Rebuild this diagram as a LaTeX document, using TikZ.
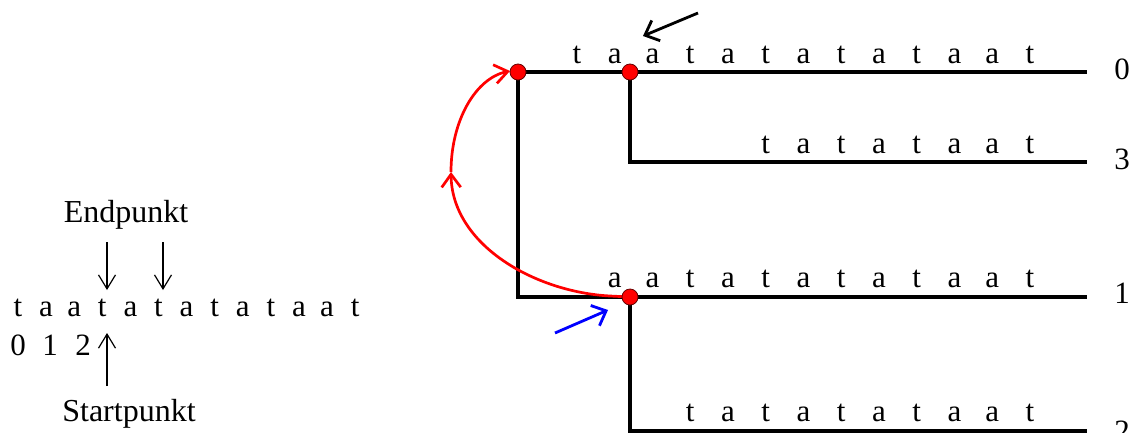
\documentclass[tikz,border=0pt]{standalone}
\usepackage{fontspec}
\setmainfont{Liberation Serif}
\usetikzlibrary{arrows.meta}
\begin{document}
\begin{tikzpicture}[x=1pt,y=-1pt,
  every node/.style={font=\fontsize{31}{35}\selectfont, inner sep=0pt},
  ch/.style={anchor=base},
  lbl/.style={anchor=base, font=\fontsize{32}{36}\selectfont},
  treeedge/.style={line width=3.2pt},
  dot/.style={circle, fill=red, draw=black!60!red, line width=0.8pt, minimum size=16pt, inner sep=0pt},
  thinarrow/.style={line width=1.2pt, -{Straight Barb[length=14pt,width=17pt,line width=1.2pt]}},
  thickarrow/.style={line width=2.8pt, -{Straight Barb[length=12pt,width=22pt,line width=2.8pt]}},
  redcurve/.style={red, line width=2.7pt},
  redtip/.style={-{Straight Barb[length=13pt,width=19pt,line width=2.7pt]}}
]
\useasboundingbox (0,0) rectangle (1138,432);

% ---------- left part ----------
\node[lbl] (endp) at (126,222) {Endpunkt};
\node[lbl] (startp) at (129,421) {Startpunkt};
\foreach \c [count=\i from 0] in {t,a,a,t,a,t,a,t,a,t,a,a,t}
  \node[ch] (s\i) at ({18+28.1*\i},316) {\c};
\node[ch] (n0) at (18,355) {0};
\node[ch] (n1) at (50,355) {1};
\node[ch] (n2) at (83,355) {2};
\coordinate (da1) at (107,242);
\coordinate (db1) at (107,290);
\coordinate (da2) at (163,242);
\coordinate (db2) at (163,290);
\coordinate (ua1) at (107,386);
\coordinate (ub1) at (107,333);
\draw[thinarrow] (da1) -- (db1);
\draw[thinarrow] (da2) -- (db2);
\draw[thinarrow] (ua1) -- (ub1);

% ---------- tree ----------
\coordinate (pr) at (518,72);
\coordinate (pu) at (630,72);
\coordinate (pv) at (630,297);
\coordinate (e0) at (1087,72);
\coordinate (c3) at (630,162);
\coordinate (e3) at (1087,162);
\coordinate (c1) at (518,297);
\coordinate (e1) at (1087,297);
\coordinate (c2) at (630,431);
\coordinate (e2) at (1087,431);
\draw[treeedge] (pr) -- (e0);
\draw[treeedge] (pr) -- (c1) -- (e1);
\draw[treeedge] (pu) -- (c3) -- (e3);
\draw[treeedge] (pv) -- (c2) -- (e2);

% letters
\foreach \c [count=\i from 0] in {t,a,a,t,a,t,a,t,a,t,a,a,t}
  \node[ch] (ra\i) at ({577+37.75*\i},63) {\c};
\foreach \c [count=\i from 5] in {t,a,t,a,t,a,a,t}
  \node[ch] (rb\i) at ({577+37.75*\i},153) {\c};
\foreach \c [count=\i from 1] in {a,a,t,a,t,a,t,a,t,a,a,t}
  \node[ch] (rc\i) at ({577+37.75*\i},287) {\c};
\foreach \c [count=\i from 3] in {t,a,t,a,t,a,t,a,a,t}
  \node[ch] (rd\i) at ({577+37.75*\i},421) {\c};

% leaf numbers
\node[ch] (l0) at (1122,79) {0};
\node[ch] (l3) at (1122,169) {3};
\node[ch] (l1) at (1122,303) {1};
\node[ch] (l2) at (1122,441) {2};

% red curve
\coordinate (m) at (451,172);
\draw[redcurve, redtip] (pv) -- (610,296) .. controls (535,292) and (452,245) .. (m);
\draw[redcurve, redtip] (m) .. controls (451,120) and (476,78) .. (510,71);

% dots
\node[dot] (r) at (pr) {};
\node[dot] (u) at (pu) {};
\node[dot] (v) at (pv) {};

% pointer arrows
\coordinate (ka) at (698,13);
\coordinate (kb) at (643,36);
\draw[thickarrow] (ka) -- (kb);
\coordinate (ba) at (555,333);
\coordinate (bb) at (608,310);
\draw[thickarrow, blue] (ba) -- (bb);
\end{tikzpicture}
\end{document}
